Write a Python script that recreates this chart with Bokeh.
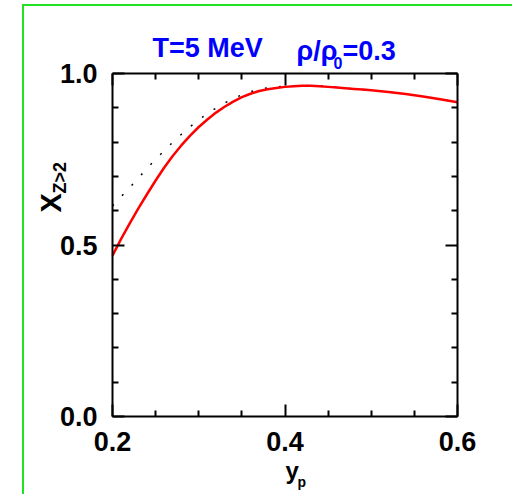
import math
from bokeh.plotting import figure
from bokeh.models import LinearAxis, FixedTicker, NumeralTickFormatter, Range1d, Label
from bokeh.embed import file_html
from bokeh.resources import INLINE

# Fraction of clusters with Z>2 versus proton fraction y_p (T = 5 MeV, rho/rho0 = 0.3)
yp_solid = [0.20, 0.21, 0.22, 0.23, 0.24, 0.25, 0.26, 0.27, 0.28, 0.29, 0.30,
            0.31, 0.32, 0.33, 0.34, 0.35, 0.36, 0.37, 0.38, 0.39, 0.40, 0.41,
            0.42, 0.43, 0.44, 0.45, 0.46, 0.47, 0.48, 0.49, 0.50, 0.52, 0.54,
            0.56, 0.58, 0.60]
x_solid = [0.469, 0.518, 0.563, 0.607, 0.648, 0.688, 0.726, 0.760, 0.791, 0.819, 0.844,
           0.866, 0.886, 0.903, 0.918, 0.931, 0.941, 0.949, 0.954, 0.958, 0.961, 0.963,
           0.964, 0.964, 0.963, 0.961, 0.959, 0.957, 0.955, 0.953, 0.951, 0.946, 0.940,
           0.933, 0.925, 0.916]

yp_dotted = [0.20, 0.21, 0.22, 0.23, 0.24, 0.25, 0.26, 0.27, 0.28, 0.29, 0.30,
             0.31, 0.32, 0.33, 0.34, 0.35, 0.36, 0.37, 0.38, 0.39, 0.40, 0.42,
             0.44, 0.46, 0.48, 0.50, 0.52, 0.54, 0.56, 0.58, 0.60]
x_dotted = [0.614, 0.641, 0.668, 0.695, 0.723, 0.750, 0.775, 0.800, 0.823, 0.845, 0.865,
            0.883, 0.899, 0.914, 0.927, 0.938, 0.947, 0.954, 0.958, 0.961, 0.963, 0.965,
            0.964, 0.960, 0.955, 0.951, 0.946, 0.940, 0.933, 0.925, 0.916]

x_major = [0.2, 0.4, 0.6]
x_minor = [0.25, 0.3, 0.35, 0.45, 0.5, 0.55]
y_major = [0.0, 0.5, 1.0]
y_minor = [0.1, 0.2, 0.3, 0.4, 0.6, 0.7, 0.8, 0.9]

FONT = "Liberation Sans"
BLUE = "#0000ff"

# page layout: the box of axes spans FL..FR, FT..FB in page pixels
FL, FR, FT, FB = 112, 457, 73, 416
X0, X1, Y0, Y1 = 0.2, 0.6, 0.0, 1.0
BORDER = 2
OFF_L, OFF_T = 22, 4
CL, CT = OFF_L + BORDER, OFF_T + BORDER          # canvas origin on the page
W, H = 512 - CL + 4, 496 - CT
BASE_K = 0.36                                    # label anchor sits this many em above the glyph baseline


def dx(px):
    return X0 + (px - FL) * (X1 - X0) / (FR - FL)


def dy(py):
    return Y0 + (FB - py) * (Y1 - Y0) / (FB - FT)


# the plotting area covers the whole canvas; the axes sit at fixed data positions
p = figure(width=W, height=H,
           x_range=Range1d(dx(CL), dx(CL + W)), y_range=Range1d(dy(CT + H), dy(CT)),
           output_backend="svg", toolbar_location=None,
           min_border=0, min_border_left=0, min_border_right=0,
           min_border_top=0, min_border_bottom=0)
p.styles = {"margin-left": f"{OFF_L}px", "margin-top": f"{OFF_T}px",
            "border-left": f"{BORDER}px solid #22e322",
            "border-top": f"{BORDER}px solid #22e322"}
p.outline_line_color = None
p.background_fill_color = "white"
p.border_fill_color = "white"
p.xgrid.visible = False
p.ygrid.visible = False

p.add_layout(LinearAxis(), "right")
p.add_layout(LinearAxis(), "above")

xt = FixedTicker(ticks=x_major, minor_ticks=x_minor)
yt = FixedTicker(ticks=y_major, minor_ticks=y_minor)

p.below[0].fixed_location = Y0
p.above[0].fixed_location = Y1
p.left[0].fixed_location = X0
p.right[0].fixed_location = X1

for ax in p.xaxis:
    ax.ticker = xt
    ax.bounds = (X0, X1)
for ax in p.yaxis:
    ax.ticker = yt
    ax.bounds = (Y0, Y1)

for ax in p.axis:
    ax.formatter = NumeralTickFormatter(format="0.0")
    ax.axis_line_width = 2
    ax.axis_line_color = "black"
    ax.major_tick_line_width = 2
    ax.minor_tick_line_width = 2
    ax.major_tick_out = 0
    ax.major_tick_in = 12
    ax.minor_tick_out = 0
    ax.minor_tick_in = 6
    ax.major_label_text_font = FONT
    ax.major_label_text_font_style = "bold"
    ax.major_label_text_font_size = "27px"
    ax.major_label_text_color = "black"

p.right[0].major_label_text_color = None
p.above[0].major_label_text_color = None
p.left[0].major_label_standoff = 15
p.below[0].major_label_standoff = 15

p.line(yp_dotted, x_dotted, line_color="black", line_width=1.5, line_dash="2 12")
p.line(yp_solid, x_solid, line_color="red", line_width=2.5)


def lab(px, py, text, size, color="black", rotated=False):
    # (px, py): start of the glyph baseline on the page
    shift = BASE_K * size
    if rotated:
        x, y, angle = dx(px - shift), dy(py), math.pi / 2
    else:
        x, y, angle = dx(px), dy(py - shift), 0.0
    p.add_layout(Label(x=x, y=y, text=text, text_font=FONT,
                       text_font_style="bold", text_font_size=f"{size}px",
                       text_color=color, text_align="left", text_baseline="alphabetic",
                       angle=angle))


lab(152, 57.5, "T=5 MeV", 27, BLUE)
lab(296, 60, "ρ/ρ", 27, BLUE)
lab(333, 68, "0", 16, BLUE)
lab(342, 60, "=0.3", 27, BLUE)

lab(61, 212, "X", 29, rotated=True)
lab(65.5, 193, "Z>2", 18, rotated=True)

lab(285, 479, "y", 24)
lab(297, 487, "p", 14)

open("out.html", "w").write(file_html(p, INLINE))
